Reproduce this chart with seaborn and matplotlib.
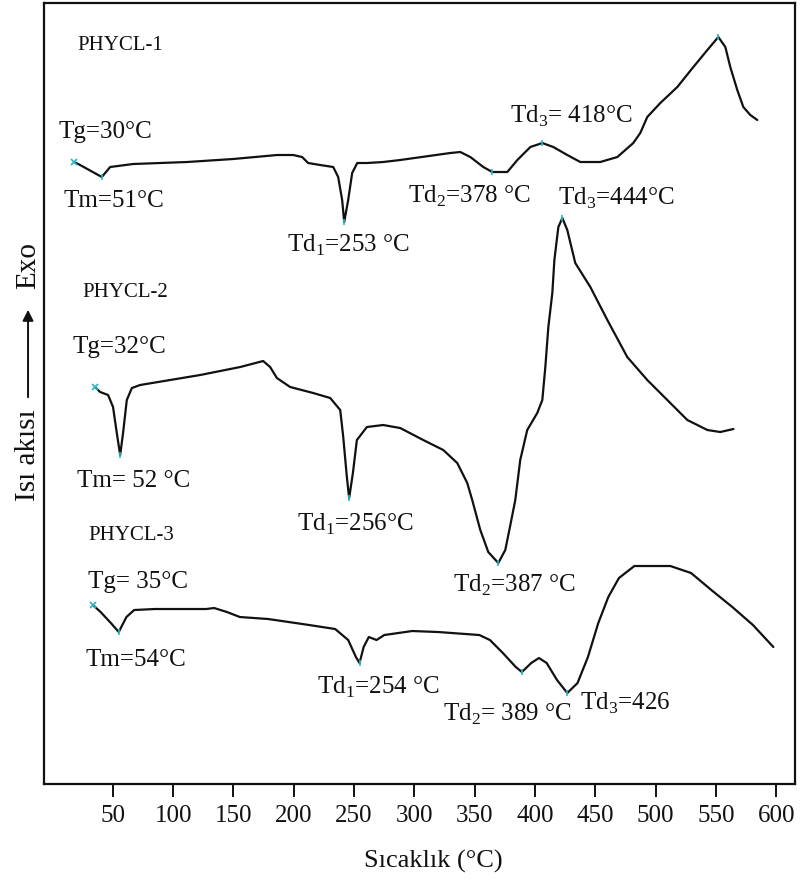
import pandas as pd
import matplotlib
matplotlib.use('Agg')
import matplotlib.pyplot as plt
import seaborn as sns

# DSC curves: temperature (°C) and heat flow (arbitrary units)
t1 = [17.9, 22.9, 40.9, 47.8, 66.8, 111.6, 149.7, 186.2, 199.5, 206.9, 211.9, 221.9,
      232.7, 236.8, 240.1, 241.8, 245.1, 248.4, 252.6, 260.9, 274.1, 288.2, 329.7, 338.0,
      346.3, 357.1, 364.5, 377.0, 385.3, 396.1, 406.0, 415.1, 426.7, 437.5, 454.0, 468.2,
      481.4, 487.2, 493.0, 503.8, 517.9, 531.2, 542.8, 551.9, 557.7, 561.8, 567.6, 572.6,
      578.4, 584.2]
h1 = [622, 619, 607, 617, 620, 622, 625, 629, 629, 627, 621, 619,
      617, 607, 584, 562, 584, 611, 621, 621, 622, 624, 631, 632,
      627, 617, 612, 612, 624, 637, 641, 637, 629, 622, 622, 627,
      641, 651, 667, 681, 697, 717, 734, 747, 737, 717, 694, 677,
      669, 664]

t2 = [35.3, 39.5, 46.1, 50.2, 53.3, 56.1, 58.5, 61.6, 65.8, 72.6, 122.4, 155.6,
      174.6, 180.4, 186.0, 197.0, 216.1, 230.2, 238.5, 241.0, 244.0, 245.9, 249.0, 252.3,
      260.6, 274.1, 288.2, 307.3, 323.9, 335.5, 343.8, 347.9, 354.6, 361.2, 369.5, 375.3,
      379.5, 383.6, 387.7, 393.5, 401.8, 406.0, 408.5, 411.0, 414.3, 416.0, 419.3, 422.6,
      426.7, 433.3, 445.8, 459.9, 476.4, 493.0, 509.6, 526.2, 542.8, 553.5, 564.4]
h2 = [397, 392, 389, 377, 351, 329, 351, 384, 396, 399, 409, 417,
      423, 417, 406, 397, 391, 386, 374, 347, 307, 286, 311, 344,
      357, 359, 356, 344, 334, 321, 301, 284, 254, 232, 221, 234,
      259, 284, 324, 354, 371, 384, 417, 457, 491, 524, 557, 566,
      554, 521, 497, 464, 427, 404, 384, 364, 354, 352, 355]

t3 = [33.5, 39.9, 48.4, 54.9, 61.3, 67.7, 84.7, 127.4, 134.0, 144.6, 155.3, 178.8,
      212.8, 234.3, 245.1, 251.5, 254.5, 257.9, 262.2, 268.6, 275.0, 298.2, 319.7, 353.8,
      362.6, 373.3, 384.0, 389.1, 396.8, 403.2, 409.6, 418.2, 426.7, 435.2, 443.8, 452.4,
      460.7, 469.5, 482.3, 512.1, 529.3, 546.1, 563.5, 580.6, 597.5]
h3 = [179, 172, 161, 152, 167, 174, 175, 175, 176, 172, 167, 165,
      159, 155, 144, 127, 121, 137, 147, 144, 149, 153, 152, 149,
      144, 131, 117, 112, 121, 126, 121, 104, 91, 101, 127, 161,
      187, 206, 218, 218, 211, 194, 177, 159, 137]

# indices of the points marked in cyan on each curve (Tg, Tm, Td1, Td2, Td3 ...)
marks1 = [0, 2, 15, 26, 30, 43]
marks2 = [0, 5, 21, 34, 47]
marks3 = [0, 3, 16, 27, 32]

xticks = [50, 100, 150, 200, 250, 300, 350, 400, 450, 500, 550, 600]

sns.set_style('white')
plt.rcParams['font.family'] = ['Liberation Serif', 'DejaVu Serif']
plt.rcParams['mathtext.fontset'] = 'custom'
plt.rcParams['mathtext.rm'] = 'Liberation Serif'

fig, ax = plt.subplots(figsize=(8.08, 8.84), dpi=100)
fig.subplots_adjust(left=0.0545, right=0.984, top=0.9966, bottom=0.1131)

ink = '#111111'
for t, h, marks in [(t1, h1, marks1), (t2, h2, marks2), (t3, h3, marks3)]:
    df = pd.DataFrame({'T': t, 'h': h})
    sns.lineplot(data=df, x='T', y='h', ax=ax, color=ink, linewidth=1.6, sort=False)
    pts = df.iloc[marks]
    ax.plot(pts['T'].iloc[:1], pts['h'].iloc[:1], 'x', color='#25b8c8', ms=5, mew=1.2)
    ax.plot(pts['T'].iloc[1:], pts['h'].iloc[1:], '|', color='#25b8c8', ms=4, mew=1.2)

# annotations (text, x in °C, y in curve units)
notes = [
    ('PHYCL-1', 20.4, 739, 15),
    ('Tg=30°C', 4.6, 652, 18),
    ('Tm=51°C', 8.8, 583, 18),
    ('Td$_\\mathregular{1}$=253 °C', 194.5, 539, 18),
    ('Td$_\\mathregular{2}$=378 °C', 294.8, 588, 18),
    ('Td$_\\mathregular{3}$= 418°C', 379.4, 668, 18),
    ('Td$_\\mathregular{3}$=444°C', 419.3, 586, 18),
    ('PHYCL-2', 24.5, 492, 15),
    ('Tg=32°C', 16.3, 437, 18),
    ('Tm= 52 °C', 20.4, 303, 18),
    ('Td$_\\mathregular{1}$=256°C', 202.8, 260, 18),
    ('Td$_\\mathregular{2}$=387 °C', 332.2, 199, 18),
    ('PHYCL-3', 29.5, 249, 15),
    ('Tg= 35°C', 29.5, 202, 18),
    ('Tm=54°C', 27.0, 124, 18),
    ('Td$_\\mathregular{1}$=254 °C', 219.4, 97, 18),
    ('Td$_\\mathregular{2}$= 389 °C', 323.9, 70, 18),
    ('Td$_\\mathregular{3}$=426', 437.5, 81, 18),
]
for txt, x, y, fs in notes:
    ax.text(x, y, txt, fontsize=fs, color=ink, ha='left', va='center')

ax.set_xlim(-7, 615.5)
ax.set_ylim(0, 781)
ax.set_xticks(xticks)
ax.set_yticks([])
ax.tick_params(axis='x', direction='out', length=9, width=1.4, pad=6,
               labelsize=18, colors=ink, bottom=True)
for s in ax.spines.values():
    s.set_visible(True)
    s.set_color(ink)
    s.set_linewidth(1.6)

ax.set_xlabel('Sıcaklık (°C)', fontsize=19, color=ink)
ax.xaxis.set_label_coords(0.518, -0.085)
ax.set_ylabel('')

# y axis label: "Isı akısı ——→ Exo"
fig.text(0.0347, 0.4853, 'Isı akısı', rotation=90, fontsize=21, color=ink,
         ha='center', va='center')
ax.annotate('', xy=(0.0347, 0.6527), xytext=(0.0347, 0.5475),
            xycoords='figure fraction', textcoords='figure fraction',
            arrowprops=dict(arrowstyle='-|>', color=ink, lw=1.4, mutation_scale=16))
fig.text(0.0347, 0.7002, 'Exo', rotation=90, fontsize=21, color=ink,
         ha='center', va='center')

fig.savefig('out.png', dpi=100)
